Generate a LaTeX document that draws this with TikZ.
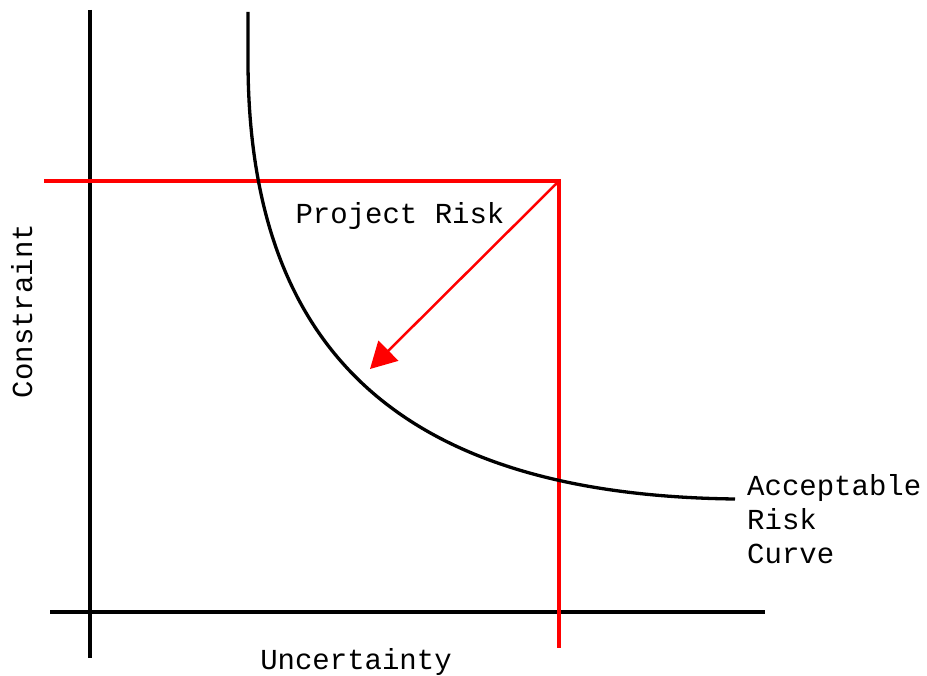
\documentclass[tikz,border=0pt]{standalone}
\usepackage{fontspec}
\setmonofont{Liberation Mono}
\usetikzlibrary{arrows.meta}
\begin{document}
\begin{tikzpicture}[x=1pt,y=-1pt,
  axis/.style={draw=black,line width=3.6pt},
  redline/.style={draw=red,line width=3.8pt},
  curveline/.style={draw=black,line width=3.3pt,line join=round},
  lbl/.style={font=\ttfamily\fontsize{29}{34}\selectfont,inner sep=0pt}]
\useasboundingbox (0,0) rectangle (927,676);
% axes
\coordinate (ytop) at (90,10);
\coordinate (ybot) at (90,658);
\coordinate (xl) at (50,612);
\coordinate (xr) at (765,612);
\draw[axis] (ytop) -- (ybot);
\draw[axis] (xl) -- (xr);
% red lines
\coordinate (rl) at (44,181);
\coordinate (corner) at (559,181);
\coordinate (rb) at (559,648);
\draw[redline] (rl) -- (corner) -- (rb);
% acceptable risk curve
\coordinate (ctop) at (248,12);
\coordinate (cbend) at (248,60);
\coordinate (cend) at (735,499);
\draw[curveline] (ctop) -- (cbend) .. controls (248,350) and (400,495) .. (cend);
% arrow
\coordinate (atip) at (370,369);
\draw[draw=red,line width=2.5pt,-{Triangle[length=26pt,width=28pt]}] (corner) -- (atip);
% labels
\node[lbl,anchor=base] (pr) at (400,224) {Project Risk};
\node[lbl,anchor=base west,align=left] (arc) at (747,563) {Acceptable\\Risk\\Curve};
\node[lbl,anchor=base] (unc) at (356,669) {Uncertainty};
\node[lbl,anchor=base,rotate=90] (con) at (32,311) {Constraint};
\end{tikzpicture}
\end{document}
